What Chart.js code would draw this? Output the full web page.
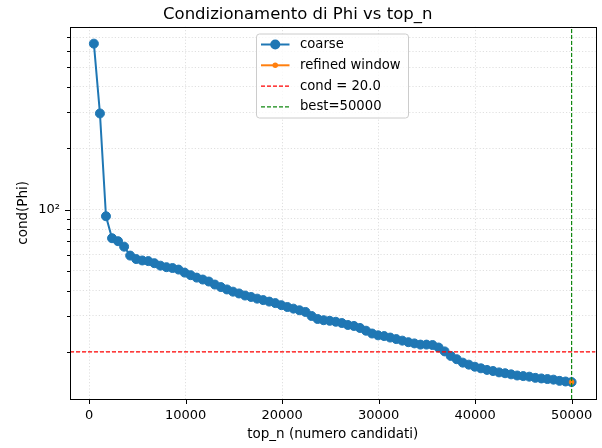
<!DOCTYPE html>
<html>
<head>
<meta charset="utf-8">
<script src="https://cdn.jsdelivr.net/npm/chart.js@4.4.0/dist/chart.umd.min.js"></script>
<style>
  html, body { margin: 0; padding: 0; background: #fff; }
</style>
</head>
<body>
<canvas id="condChart" width="602" height="448"></canvas>
<script>
// top_n values of the coarse sweep
const topN = [500, 1127, 1753, 2380, 3006, 3633, 4259, 4886, 5513, 6139,
  6766, 7392, 8019, 8646, 9272, 9899, 10525, 11152, 11778, 12405,
  13032, 13658, 14285, 14911, 15538, 16165, 16791, 17418, 18044, 18671,
  19297, 19924, 20551, 21177, 21804, 22430, 23057, 23684, 24310, 24937,
  25563, 26190, 26816, 27443, 28070, 28696, 29323, 29949, 30576, 31203,
  31829, 32456, 33082, 33709, 34335, 34962, 35589, 36215, 36842, 37468,
  38095, 38722, 39348, 39975, 40601, 41228, 41854, 42481, 43108, 43734,
  44361, 44987, 45614, 46241, 46867, 47494, 48120, 48747, 49373, 50000];

// cond(Phi) for each coarse top_n
const condCoarse = [653, 296.5, 92.7, 72.3, 69.9, 65.7, 59.4, 57.1, 56.2, 55.8,
  54.5, 53.0, 52.1, 51.6, 50.7, 49.0, 47.6, 46.3, 45.3, 44.3,
  42.8, 41.6, 40.5, 39.5, 38.7, 37.8, 37.2, 36.5, 35.9, 35.3,
  34.7, 33.9, 33.2, 32.6, 32.0, 31.4, 30.0, 29.0, 28.6, 28.4,
  28.1, 27.7, 27.1, 26.8, 26.2, 25.4, 24.6, 24.1, 23.9, 23.5,
  23.1, 22.7, 22.3, 22.0, 21.7, 21.7, 21.6, 21.0, 20.1, 19.1,
  18.4, 17.7, 17.3, 16.9, 16.6, 16.3, 16.1, 15.85, 15.7, 15.5,
  15.3, 15.2, 15.1, 14.9, 14.8, 14.7, 14.6, 14.4, 14.3, 14.2];

const refinedTopN = [50000];
const refinedCond = [14.2];

const condThreshold = 20.0;
const bestTopN = 50000;

const xTicks = [0, 10000, 20000, 30000, 40000, 50000];
const yMajorTicks = [100];
const yMinorTicks = [20, 30, 40, 50, 60, 70, 80, 90, 200, 300, 400, 500, 600, 700];

const xMin = -1975, xMax = 52475;
const yMin = 11.73, yMax = 790;

const FONT = '"DejaVu Sans", sans-serif';

// black box around the plot + outward tick marks (matplotlib look)
const axisFrame = {
    id: 'axisFrame',
    afterDatasetsDraw(chart) {
        const { ctx, chartArea: a, scales: { x, y } } = chart;
        ctx.save();
        ctx.strokeStyle = '#000';
        ctx.lineWidth = 1;
        ctx.setLineDash([]);
        ctx.strokeRect(Math.round(a.left) + 0.5, Math.round(a.top) + 0.5,
            Math.round(a.right) - Math.round(a.left), Math.round(a.bottom) - Math.round(a.top));
        ctx.beginPath();
        xTicks.forEach(v => {
            const px = Math.round(x.getPixelForValue(v)) + 0.5;
            ctx.moveTo(px, a.bottom);
            ctx.lineTo(px, a.bottom + 5);
        });
        yMajorTicks.forEach(v => {
            const py = Math.round(y.getPixelForValue(v)) + 0.5;
            ctx.moveTo(a.left, py);
            ctx.lineTo(a.left - 5, py);
        });
        yMinorTicks.forEach(v => {
            const py = Math.round(y.getPixelForValue(v)) + 0.5;
            ctx.moveTo(a.left, py);
            ctx.lineTo(a.left - 3, py);
        });
        ctx.stroke();
        ctx.restore();
    }
};

// legend box in the upper centre
const legendBox = {
    id: 'legendBox',
    afterDraw(chart) {
        const ctx = chart.ctx;
        const left = 256.5, top = 34, width = 152, height = 84;
        const firstRow = 44.5, rowH = 20.8;
        ctx.save();
        ctx.fillStyle = 'rgba(255,255,255,0.8)';
        ctx.strokeStyle = '#cccccc';
        ctx.lineWidth = 1;
        ctx.beginPath();
        if (ctx.roundRect) ctx.roundRect(left, top, width, height, 3);
        else ctx.rect(left, top, width, height);
        ctx.fill();
        ctx.stroke();
        chart.data.datasets.forEach((ds, i) => {
            const cy = firstRow + i * rowH;
            ctx.strokeStyle = ds.borderColor;
            ctx.lineWidth = ds.borderWidth;
            ctx.setLineDash(ds.borderDash || []);
            ctx.beginPath();
            ctx.moveTo(261, cy);
            ctx.lineTo(289.5, cy);
            ctx.stroke();
            ctx.setLineDash([]);
            if (ds.pointRadius > 0) {
                ctx.fillStyle = ds.pointBackgroundColor;
                ctx.beginPath();
                ctx.arc(275.25, cy, ds.pointRadius + ds.pointBorderWidth / 2, 0, 2 * Math.PI);
                ctx.fill();
            }
            ctx.fillStyle = '#000';
            ctx.font = '13.2px ' + FONT;
            ctx.textBaseline = 'middle';
            ctx.textAlign = 'left';
            ctx.fillText(ds.label, 300, cy);
        });
        ctx.restore();
    }
};

const ctx = document.getElementById('condChart').getContext('2d');

new Chart(ctx, {
    type: 'scatter',
    data: {
        datasets: [{
            label: 'coarse',
            data: topN.map((v, i) => ({ x: v, y: condCoarse[i] })),
            showLine: true,
            borderColor: '#1f77b4',
            borderWidth: 2,
            pointRadius: 4.5,
            pointBorderWidth: 1,
            pointBackgroundColor: '#1f77b4',
            pointBorderColor: '#1f77b4',
            order: 4
        }, {
            label: 'refined window',
            data: refinedTopN.map((v, i) => ({ x: v, y: refinedCond[i] })),
            showLine: true,
            borderColor: '#ff7f0e',
            borderWidth: 2,
            pointRadius: 2.5,
            pointBorderWidth: 0.5,
            pointBackgroundColor: '#ff7f0e',
            pointBorderColor: '#ff7f0e',
            order: 3
        }, {
            label: 'cond = ' + condThreshold.toFixed(1),
            data: [{ x: xMin, y: condThreshold }, { x: xMax, y: condThreshold }],
            showLine: true,
            borderColor: '#ff0000',
            borderWidth: 1.2,
            borderDash: [4, 2],
            pointRadius: 0,
            pointBorderWidth: 0,
            order: 2
        }, {
            label: 'best=' + bestTopN,
            data: [{ x: bestTopN, y: yMin }, { x: bestTopN, y: yMax }],
            showLine: true,
            borderColor: '#118811',
            borderWidth: 1.2,
            borderDash: [4, 2],
            pointRadius: 0,
            pointBorderWidth: 0,
            order: 1
        }]
    },
    options: {
        responsive: false,
        animation: false,
        layout: { padding: { left: 0, right: 6.5, top: 0, bottom: 0 } },
        plugins: {
            legend: { display: false },
            tooltip: { enabled: false },
            title: {
                display: true,
                text: 'Condizionamento di Phi vs top_n',
                color: '#000',
                font: { family: FONT, size: 16.5, weight: 'normal' },
                padding: { top: 4.5, bottom: 2.5 }
            }
        },
        scales: {
            x: {
                type: 'linear',
                min: xMin,
                max: xMax,
                afterBuildTicks: scale => { scale.ticks = xTicks.map(v => ({ value: v })); },
                afterFit: scale => { scale.height = 49; },
                ticks: {
                    autoSkip: false,
                    maxRotation: 0,
                    padding: 9,
                    color: '#000',
                    font: { family: FONT, size: 13 },
                    callback: v => String(v)
                },
                grid: { color: '#d8d8d8', lineWidth: 0.8, drawTicks: false },
                border: { display: false, dash: [1.2, 2] },
                title: {
                    display: true,
                    text: 'top_n (numero candidati)',
                    color: '#000',
                    font: { family: FONT, size: 13.5 },
                    padding: { top: 0, bottom: 5.4 }
                }
            },
            y: {
                type: 'logarithmic',
                min: yMin,
                max: yMax,
                afterBuildTicks: scale => {
                    scale.ticks = yMinorTicks.concat(yMajorTicks)
                        .sort((a, b) => a - b)
                        .map(v => ({ value: v }));
                },
                afterFit: scale => { scale.width = 70; },
                ticks: {
                    autoSkip: false,
                    padding: 10,
                    color: '#000',
                    font: { family: FONT, size: 13 },
                    callback: v => (yMajorTicks.includes(v) ? '10²' : '')
                },
                grid: { color: '#d8d8d8', lineWidth: 0.8, drawTicks: false },
                border: { display: false, dash: [1.2, 2] },
                title: {
                    display: true,
                    text: 'cond(Phi)',
                    color: '#000',
                    font: { family: FONT, size: 13.5 },
                    padding: { top: 15.4, bottom: 0 }
                }
            }
        }
    },
    plugins: [axisFrame, legendBox]
});
</script>
</body>
</html>
